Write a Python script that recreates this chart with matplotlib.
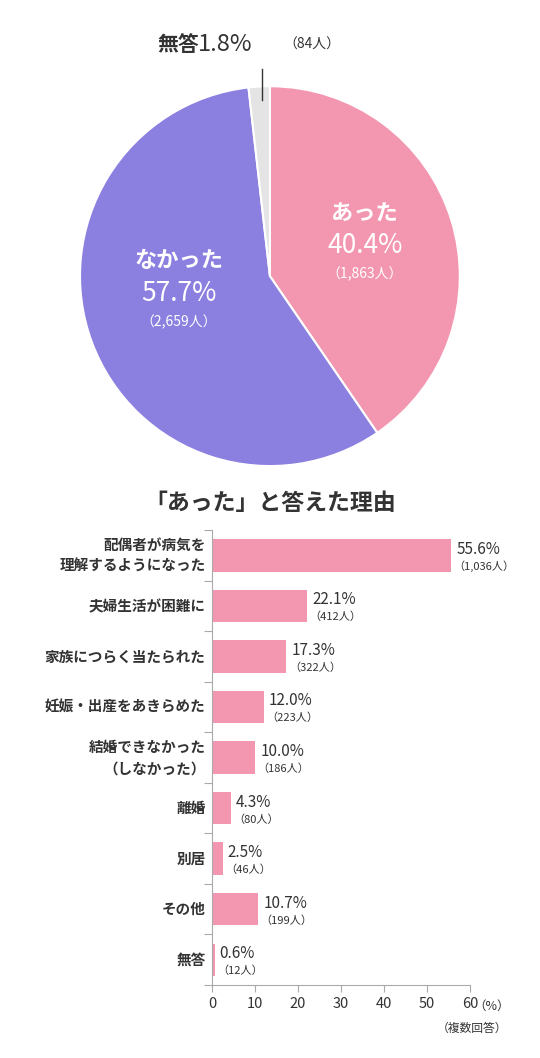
import matplotlib
matplotlib.use("Agg")
import matplotlib.pyplot as plt

plt.rcParams['font.family'] = ['Noto Sans CJK JP', 'DejaVu Sans']

pie_labels = ['あった', 'なかった', '無答']
pie_values = [40.4, 57.7, 1.8]
pie_counts = ['1,863', '2,659', '84']
pie_colors = ['#F397B1', '#8B7FE0', '#E4E4E4']

categories = ['配偶者が病気を\n理解するようになった', '夫婦生活が困難に', '家族につらく当たられた',
              '妊娠・出産をあきらめた', '結婚できなかった\n（しなかった）', '離婚', '別居', 'その他', '無答']
percents = [55.6, 22.1, 17.3, 12.0, 10.0, 4.3, 2.5, 10.7, 0.6]
counts = ['1,036', '412', '322', '223', '186', '80', '46', '199', '12']
xticks = [0, 10, 20, 30, 40, 50, 60]

dark = '#333333'
fig = plt.figure(figsize=(5.4, 10.58), dpi=100)

# pie
ax = fig.add_axes([0.148, 0.5595, 0.7037, 0.359])
ax.pie(pie_values, colors=pie_colors, startangle=90, counterclock=False,
       wedgeprops=dict(edgecolor='white', linewidth=1.5))
ax.set_xlim(-1, 1)
ax.set_ylim(-1, 1)
ax.set_aspect('equal')
ax.text(0.5, 0.33, 'あった', color='white', fontsize=16, fontweight='bold', ha='center', va='center')
ax.text(0.5, 0.16, f'{pie_values[0]}%', color='white', fontsize=19, ha='center', va='center')
ax.text(0.5, 0.01, f'（{pie_counts[0]}人）', color='white', fontsize=10, ha='center', va='center')
ax.text(-0.48, 0.08, 'なかった', color='white', fontsize=16, fontweight='bold', ha='center', va='center')
ax.text(-0.48, -0.09, f'{pie_values[1]}%', color='white', fontsize=19, ha='center', va='center')
ax.text(-0.48, -0.24, f'（{pie_counts[1]}人）', color='white', fontsize=10, ha='center', va='center')
ax.plot([-0.04, -0.04], [0.93, 1.09], color=dark, lw=1, clip_on=False)
ax.text(-0.59, 1.22, '無答', color=dark, fontsize=15, fontweight='bold', ha='left', va='center', clip_on=False)
ax.text(-0.38, 1.22, f'{pie_values[2]}%', color=dark, fontsize=17, ha='left', va='center', clip_on=False)
ax.text(0.07, 1.22, f'（{pie_counts[2]}人）', color=dark, fontsize=10, ha='left', va='center', clip_on=False)

fig.text(0.5, 1 - 503 / 1058, '「あった」と答えた理由', color=dark, fontsize=16.5,
         fontweight='bold', ha='center', va='center')

# bars
bx = fig.add_axes([0.3926, 0.069, 0.478, 0.430])
y = list(range(len(categories)))
bx.barh(y, percents, height=0.64, color='#F397B1', edgecolor='none')
bx.set_ylim(len(categories) - 0.5, -0.5)
bx.set_xlim(0, 60)
for yi, p, c in zip(y, percents, counts):
    bx.text(p + 1.2, yi - 0.12, f'{p}%', color=dark, fontsize=11, va='center')
    bx.text(p + 0.6, yi + 0.22, f'（{c}人）', color=dark, fontsize=8, va='center')
bx.set_yticks([i - 0.5 for i in range(len(categories) + 1)], minor=False)
bx.set_yticklabels([])
bx.tick_params(axis='y', length=6, color='#aaaaaa', direction='out')
for yi, cat in zip(y, categories):
    bx.text(-1.5, yi, cat, color=dark, fontsize=10.5, fontweight='bold', ha='right', va='center',
            linespacing=1.4)
bx.set_xticks(xticks)
bx.tick_params(axis='x', length=5, color='#aaaaaa', labelsize=10.5, labelcolor=dark)
for s in ['top', 'right']:
    bx.spines[s].set_visible(False)
for s in ['left', 'bottom']:
    bx.spines[s].set_color('#aaaaaa')
bx.text(60.8, len(categories) - 0.5 + 0.42, '（%）', color=dark, fontsize=9, va='center', clip_on=False)
bx.text(60.5, len(categories) - 0.5 + 0.85, '（複数回答）', color=dark, fontsize=8.5, ha='center',
        va='center', clip_on=False)

fig.savefig('out.png', dpi=100)
